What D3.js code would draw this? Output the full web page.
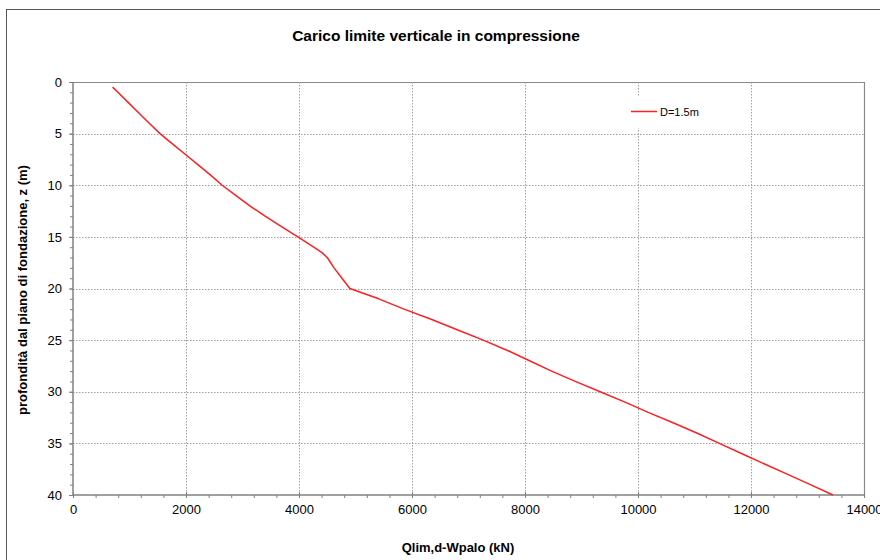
<!DOCTYPE html>
<html>
<head>
<meta charset="utf-8">
<script src="https://cdn.jsdelivr.net/npm/d3@7"></script>
<style>
  html, body { margin: 0; padding: 0; background: #fff; }
  svg { display: block; font-family: "Liberation Sans", Arial, sans-serif; }
</style>
</head>
<body>
<svg id="chart" width="880" height="560"></svg>
<script>
// Limit load (kN) versus depth below foundation level (m), pile D = 1.5 m
const depth = [0.5, 1, 2, 3, 4, 5, 6, 7, 8, 9, 10, 11, 12, 13, 14, 15, 16, 16.5, 17, 18, 19, 20,
               21, 22, 23, 24, 25, 26, 27, 28, 29, 30, 31, 32, 33, 34, 35, 36, 37, 38, 39, 40];
const qlim  = [700, 795, 980, 1165, 1350, 1540, 1760, 1985, 2210, 2430, 2640, 2885, 3130, 3400, 3690, 3980, 4260, 4400, 4500, 4620, 4760, 4900,
               5410, 5860, 6350, 6800, 7260, 7690, 8080, 8470, 8890, 9330, 9770, 10180, 10620, 11040, 11440, 11840, 12240, 12650, 13050, 13450];
const seriesName = "D=1.5m";
const xTicks = [0, 2000, 4000, 6000, 8000, 10000, 12000, 14000];
const yTicks = [0, 5, 10, 15, 20, 25, 30, 35, 40];
const titleText = "Carico limite verticale in compressione";
const xLabel = "Qlim,d-Wpalo (kN)";
const yLabel = "profondità dal piano di fondazione, z (m)";

const svg = d3.select("#chart");
const plot = { left: 73, top: 82, right: 864, bottom: 495 };

const x = d3.scaleLinear().domain([0, 14000]).range([plot.left, plot.right]);
const y = d3.scaleLinear().domain([0, 40]).range([plot.top, plot.bottom]);

// outer frame of the chart area
svg.append("rect")
  .attr("x", 6.5).attr("y", 9.5)
  .attr("width", 900).attr("height", 600)
  .attr("fill", "#fff").attr("stroke", "#555").attr("stroke-width", 1);

// title
svg.append("text")
  .attr("x", 436).attr("y", 41)
  .attr("text-anchor", "middle")
  .attr("font-weight", "bold").attr("font-size", 15.5)
  .attr("fill", "#000")
  .text(titleText);

// grid lines
const grid = svg.append("g").attr("stroke", "#a0a0a0").attr("stroke-width", 1).attr("stroke-dasharray", "1.5,1.5");
grid.selectAll("line.v").data(xTicks.filter(d => d > 0 && d < 14000)).join("line")
  .attr("x1", d => Math.round(x(d)) + 0.5).attr("x2", d => Math.round(x(d)) + 0.5)
  .attr("y1", plot.top).attr("y2", plot.bottom);
grid.selectAll("line.h").data(yTicks.filter(d => d > 0 && d < 40)).join("line")
  .attr("y1", d => Math.round(y(d)) + 0.5).attr("y2", d => Math.round(y(d)) + 0.5)
  .attr("x1", plot.left).attr("x2", plot.right);

// plot area border (top and right)
svg.append("path")
  .attr("d", `M${plot.left},${plot.top + 0.5}H${plot.right + 0.5}V${plot.bottom}`)
  .attr("fill", "none").attr("stroke", "#8a8a8a").attr("stroke-width", 1.2);

// x axis
const xAxis = svg.append("g").attr("transform", `translate(0,${plot.bottom})`);
xAxis.call(d3.axisBottom(x).tickValues(d3.range(0, 14001, 400)).tickSize(3).tickFormat(""))
  .call(g => g.select(".domain").remove())
  .call(g => g.selectAll("line").attr("stroke", "#808080"));
xAxis.call(g => g.append("g").call(d3.axisBottom(x).tickValues(xTicks).tickSize(3).tickFormat(d3.format("d")))
  .call(a => a.select(".domain").remove())
  .call(a => a.selectAll("line").attr("stroke", "#808080").attr("y1", -3))
  .call(a => a.selectAll("text").attr("font-size", 13).attr("fill", "#000").attr("font-family", "Liberation Sans, Arial, sans-serif").attr("y", 10)));
xAxis.append("line").attr("x1", plot.left).attr("x2", plot.right + 1)
  .attr("stroke", "#808080").attr("stroke-width", 1.5);

// y axis
const yAxis = svg.append("g").attr("transform", `translate(${plot.left},0)`);
yAxis.call(d3.axisLeft(y).tickValues(d3.range(0, 41, 1)).tickSize(3).tickFormat(""))
  .call(g => g.select(".domain").remove())
  .call(g => g.selectAll("line").attr("stroke", "#808080"));
yAxis.call(g => g.append("g").call(d3.axisLeft(y).tickValues(yTicks).tickSize(4).tickFormat(d3.format("d")))
  .call(a => a.select(".domain").remove())
  .call(a => a.selectAll("line").attr("stroke", "#808080"))
  .call(a => a.selectAll("text").attr("font-size", 13).attr("fill", "#000").attr("font-family", "Liberation Sans, Arial, sans-serif").attr("x", -11)));
yAxis.append("line").attr("y1", plot.top).attr("y2", plot.bottom)
  .attr("stroke", "#808080").attr("stroke-width", 1.5);

// data line
const line = d3.line().x(d => x(d[0])).y(d => y(d[1]));
svg.append("path")
  .datum(qlim.map((q, i) => [q, depth[i]]))
  .attr("d", line)
  .attr("fill", "none").attr("stroke", "#ff2020").attr("stroke-width", 1.5)
  .attr("stroke-linejoin", "round");

// legend
const legend = svg.append("g");
legend.append("rect").attr("x", 622).attr("y", 97).attr("width", 80).attr("height", 31).attr("fill", "#fff");
legend.append("line").attr("x1", 631).attr("x2", 657).attr("y1", 111.5).attr("y2", 111.5)
  .attr("stroke", "#ff2020").attr("stroke-width", 1.5);
legend.append("text").attr("x", 660).attr("y", 115.5).attr("font-size", 11).attr("fill", "#000").text(seriesName);

// axis titles
svg.append("text")
  .attr("x", 458).attr("y", 552)
  .attr("text-anchor", "middle").attr("font-weight", "bold").attr("font-size", 13)
  .text(xLabel);
svg.append("text")
  .attr("transform", "translate(27,290) rotate(-90)")
  .attr("text-anchor", "middle").attr("font-weight", "bold").attr("font-size", 13)
  .text(yLabel);
</script>
</body>
</html>
